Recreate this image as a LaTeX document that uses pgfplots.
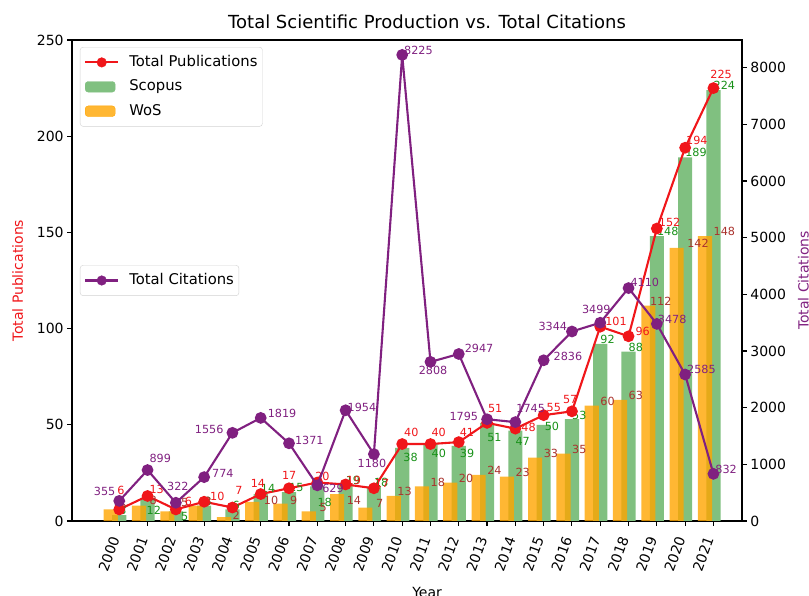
\documentclass[border=0pt]{standalone}
\usepackage{pgfplots}
\pgfplotsset{compat=1.18}
\usepackage{pgfplotstable}
\usepackage{fontspec}
\setmainfont{DejaVu Sans}
\definecolor{barg}{RGB}{128,192,128}
\definecolor{baro}{RGB}{255,165,0}
\definecolor{lred}{RGB}{240,22,26}
\definecolor{lpur}{RGB}{128,32,128}
\definecolor{tgreen}{RGB}{24,145,24}
\definecolor{tbrown}{RGB}{170,50,45}
\definecolor{legbd}{RGB}{210,210,210}

\pgfplotstableread[col sep=comma]{
year,pub,pdx,pdy,sco,sdx,sdy,wos,wdx,wdy
2000,6,-3,14,3,0,0,6,0,0
2001,13,1,1,12,-1,-17,8,2,1
2002,6,8,3,5,5,-9,5,5,5
2003,10,5,0,8,0,0,8,0,0
2004,7,2,12,6,0,0,2,0,-3
2005,14,-11,6,14,0,1,10,3,-3
2006,17,-8,8,15,0,0,9,1,-1
2007,20,-3,1,18,0,-20,5,2,0
2008,19,0,-1,19,0,0,14,1,-11
2009,17,0,0,18,0,0,7,2,0
2010,40,1,6,38,1,-14,13,-5,0
2011,40,0,6,40,1,-14,18,0,0
2012,41,0,5,39,1,-12,20,0,0
2013,51,0,9,51,0,-19,24,0,0
2014,48,5,-4,47,0,-15,23,0,0
2015,55,2,2,50,1,-6,33,0,0
2016,57,-10,7,53,0,-1,35,0,0
2017,101,4,0,92,0,0,60,0,0
2018,96,6,0,88,0,0,63,0,0
2019,152,1,1,148,0,0,112,-7,0
2020,194,0,2,189,0,0,142,2,0
2021,225,-4,8,224,0,0,148,0,0
}\pubdata

\pgfplotstableread[col sep=comma]{
year,cit,dx,dy
2000,355,-26.4,4
2001,899,1,6
2002,322,-9.7,11
2003,774,7,-1
2004,1556,-38.5,-2
2005,1819,6,-1
2006,1371,5,-2
2007,629,4,-8.2
2008,1954,1,-2
2009,1180,-17.2,-14.2
2010,8225,1,-1
2011,2808,-12.7,-14.2
2012,2947,5,0
2013,1795,-38.5,-2
2014,1745,0,8
2015,2836,9,-1
2016,3344,-34.5,0
2017,3499,-19.2,8
2018,4110,1,0
2019,3478,0,-1
2020,2585,1,0
2021,832,1,-1
}\citdata

\tikzset{lab/.style={font=\fontsize{11.2}{12}\selectfont, inner sep=0pt}}
\pgfplotsset{
  common/.style={
    scale only axis, width=670pt, height=481pt,
    xmin=1998.33, xmax=2022.01,
    tick align=outside, major tick length=4.9pt,
    every tick/.style={black, line width=1.1pt},
    axis line style={line width=1.1pt, black},
    every tick label/.append style={font=\fontsize{14}{16}\selectfont},
    /pgf/number format/1000 sep={},
    /pgf/number format/assume math mode=true,
    label style={font=\fontsize{14}{16}\selectfont},
    clip=false,
    legend cell align=left,
    legend style={font=\fontsize{14.8}{17}\selectfont, draw=legbd, rounded corners=3pt,
      inner xsep=4pt, inner ysep=3pt, row sep=0pt, column sep=9pt,
      nodes={text height=10.8pt, text depth=3pt, inner ysep=5.3pt, inner xsep=1pt}},
  },
}

\begin{document}
\begin{tikzpicture}
\begin{axis}[common,
  ymin=0, ymax=250, ytick={0,50,...,250},
  xtick={2000,...,2021},
  xtick pos=bottom, ytick pos=left,
  xticklabel style={xshift=-3pt, yshift=-8pt, rotate=70, anchor=east},
  xlabel={Year}, ylabel={Total Publications},
  xlabel style={at={(axis description cs:0.53,-0.1372)}, anchor=north, inner sep=0pt},
  ylabel style={text=lred, at={(axis description cs:-0.081,0.5)}, anchor=center},
  title={Total Scientific Production vs. Total Citations},
  title style={font=\fontsize{18}{20}\selectfont, at={(axis description cs:0.53,1.012)}, anchor=base, inner sep=0pt},
  legend style={at={(0.0119,0.9854)}, anchor=north west},
]
\addlegendimage{legend image code/.code={\draw[lred, line width=2.1pt] (0pt,0pt) -- (33pt,0pt); \fill[lred] (16.5pt,0pt) circle (4.8pt);}}
\addlegendentry{Total Publications}
\addlegendimage{legend image code/.code={\fill[barg] (0pt,-5.3pt) rectangle (30pt,5.3pt);}}
\addlegendentry{Scopus}
\addlegendimage{legend image code/.code={\fill[baro, fill opacity=0.8] (0pt,-5.3pt) rectangle (30pt,5.3pt);}}
\addlegendentry{WoS}

\addplot[ybar, bar width=0.5, bar shift=0, fill=barg, draw=none, forget plot,
  visualization depends on={\thisrow{sdx}\as\ldx},
  visualization depends on={\thisrow{sdy}\as\ldy},
  nodes near coords,
  nodes near coords style={lab, text=tgreen, anchor=south west, xshift=\ldx pt, yshift=\ldy pt}]
  table[x=year, y=sco] {\pubdata};
\addplot[ybar, bar width=0.5, bar shift=-0.3, fill=baro, fill opacity=0.8, draw=none, forget plot,
  visualization depends on={\thisrow{wdx}\as\ldx},
  visualization depends on={\thisrow{wdy}\as\ldy},
  nodes near coords,
  nodes near coords style={lab, text opacity=1, text=tbrown, anchor=south west, xshift=\ldx pt, yshift=\ldy pt}]
  table[x=year, y=wos] {\pubdata};
\addplot[lred, line width=2.1pt, mark=*, mark size=4.8pt, mark options={fill=lred, draw=lred}, forget plot,
  visualization depends on={\thisrow{pdx}\as\ldx},
  visualization depends on={\thisrow{pdy}\as\ldy},
  nodes near coords,
  nodes near coords style={lab, text=lred, anchor=south west, xshift=\ldx pt, yshift=\ldy pt}]
  table[x=year, y=pub] {\pubdata};
\end{axis}

\begin{axis}[common,
  axis y line*=right, axis x line=none,
  ymin=0, ymax=8488, ytick={0,1000,...,8000}, scaled y ticks=false,
  ylabel={Total Citations},
  ylabel style={text=lpur, at={(axis description cs:1.0915,0.5)}, anchor=center},
  legend style={at={(0.0119,0.5)}, anchor=west},
]
\addlegendimage{legend image code/.code={\draw[lpur, line width=2.1pt] (0pt,0pt) -- (33pt,0pt); \fill[lpur] (16.5pt,0pt) circle (4.8pt);}}
\addlegendentry{Total Citations}
\addplot[lpur, line width=2.1pt, mark=*, mark size=4.8pt, mark options={fill=lpur, draw=lpur}, forget plot,
  visualization depends on={\thisrow{dx}\as\ldx},
  visualization depends on={\thisrow{dy}\as\ldy},
  nodes near coords,
  nodes near coords style={lab, text=lpur, anchor=south west, xshift=\ldx pt, yshift=\ldy pt}]
  table[x=year, y=cit] {\citdata};
\end{axis}
\pgfresetboundingbox
\path (-72pt,-75pt) rectangle (737pt,521pt);
\end{tikzpicture}
\end{document}
